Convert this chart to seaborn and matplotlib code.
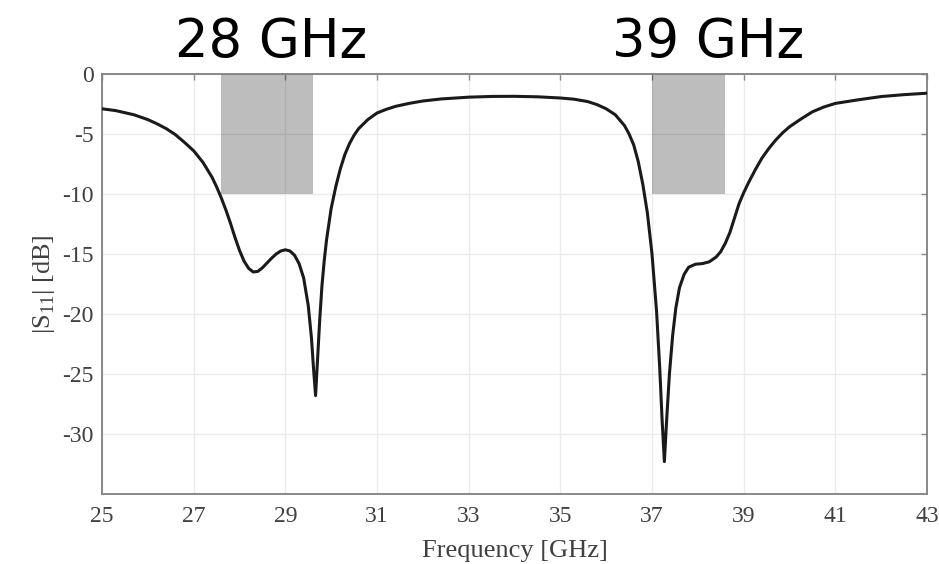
import numpy as np
import pandas as pd
import matplotlib
matplotlib.use("Agg")
import matplotlib.pyplot as plt
import seaborn as sns

# S11 curve
freq_ghz = [25.0, 25.3, 25.7, 26.0, 26.2, 26.4, 26.6, 26.8, 27.0, 27.2, 27.4, 27.5,
            27.6, 27.7, 27.8, 27.9, 28.0, 28.1, 28.2, 28.3, 28.4, 28.5, 28.6, 28.7,
            28.8, 28.9, 29.0, 29.1, 29.2, 29.3, 29.4, 29.5, 29.57, 29.62, 29.66, 29.7,
            29.75, 29.8, 29.85, 29.9, 30.0, 30.1, 30.2, 30.3, 30.4, 30.5, 30.6, 30.8,
            31.0, 31.2, 31.4, 31.7, 32.0, 32.4, 33.0, 33.5, 34.0, 34.5, 35.0, 35.3,
            35.6, 35.8, 36.0, 36.2, 36.4, 36.5, 36.6, 36.7, 36.8, 36.9, 37.0, 37.1,
            37.17, 37.22, 37.27, 37.32, 37.38, 37.45, 37.52, 37.6, 37.7, 37.8, 37.95, 38.1,
            38.25, 38.4, 38.5, 38.6, 38.7, 38.8, 38.9, 39.0, 39.1, 39.25, 39.4, 39.55,
            39.7, 39.85, 40.0, 40.25, 40.5, 40.75, 41.0, 41.5, 42.0, 42.5, 43.0]
s11_db = [-2.9, -3.05, -3.4, -3.8, -4.15, -4.55, -5.05, -5.7, -6.4, -7.35, -8.6, -9.4,
          -10.3, -11.3, -12.4, -13.6, -14.7, -15.6, -16.2, -16.5, -16.45, -16.15, -15.75, -15.35,
          -15.0, -14.75, -14.65, -14.75, -15.1, -15.8, -17.0, -19.3, -22.0, -24.8, -26.8, -24.0,
          -20.5, -17.6, -15.5, -13.8, -11.2, -9.4, -7.9, -6.7, -5.8, -5.1, -4.55, -3.8,
          -3.25, -2.95, -2.7, -2.45, -2.25, -2.08, -1.93, -1.87, -1.86, -1.9, -2.0, -2.1,
          -2.3, -2.55, -2.9, -3.4, -4.3, -5.0, -5.9, -7.3, -9.2, -11.6, -15.0, -19.8,
          -24.6, -28.8, -32.3, -28.8, -25.0, -21.8, -19.5, -17.8, -16.7, -16.1, -15.85, -15.8,
          -15.65, -15.25, -14.8, -14.1, -13.2, -12.0, -10.8, -9.9, -9.1, -8.0, -7.0, -6.2,
          -5.5, -4.9, -4.4, -3.75, -3.15, -2.75, -2.45, -2.15, -1.88, -1.72, -1.6]

# target bands (shaded boxes)
band_labels = ["28 GHz", "39 GHz"]
band_start = [27.6, 37.0]
band_end = [29.6, 38.6]
band_floor = -10

xticks = [25, 27, 29, 31, 33, 35, 37, 39, 41, 43]
yticks = [0, -5, -10, -15, -20, -25, -30]

df = pd.DataFrame({"freq": freq_ghz, "s11": s11_db})

sns.set_theme(style="whitegrid")
plt.rcParams["font.family"] = ["Liberation Serif", "DejaVu Serif"]
plt.rcParams["mathtext.fontset"] = "custom"
plt.rcParams["mathtext.rm"] = "Liberation Serif"
plt.rcParams["axes.unicode_minus"] = False

fig = plt.figure(figsize=(9.39, 5.64), dpi=100)
ax = fig.add_axes([102 / 939, 1 - 494 / 564, 825 / 939, 420 / 564])

# shaded boxes sit over the grid, grid shows through faintly
for x0, x1 in zip(band_start, band_end):
    ax.fill_between([x0, x1], band_floor, 0, color="black", alpha=0.26, lw=0, zorder=1)

sns.lineplot(data=df, x="freq", y="s11", color="#1a1a1a", linewidth=2.2, ax=ax, zorder=3)

ax.set_xlim(25, 43)
ax.set_ylim(-35, 0)
ax.set_xticks(xticks)
ax.set_yticks(yticks)
ax.grid(True, color="#ebebeb", linewidth=1.0)
ax.set_facecolor("white")
for sp in ax.spines.values():
    sp.set_color("#808080")
    sp.set_linewidth(1.3)
ax.tick_params(direction="in", length=4, width=1, color="#8a8a8a",
               top=True, right=True, labelsize=17, labelcolor="#404040")
ax.tick_params(axis="x", pad=9)
ax.tick_params(axis="y", pad=6)

ax.set_xlabel("Frequency [GHz]", fontsize=19, color="#404040", labelpad=9)
ax.set_ylabel(r"|S$_{\mathregular{11}}$| [dB]", fontsize=19, color="#404040", labelpad=4)

title_x = [271 / 939, 708 / 939]
for lab, tx in zip(band_labels, title_x):
    fig.text(tx, 1 - 57 / 564, lab, ha="center", va="baseline", fontsize=38,
             family=["DejaVu Sans"], color="black")

fig.savefig("out.png", dpi=100)
